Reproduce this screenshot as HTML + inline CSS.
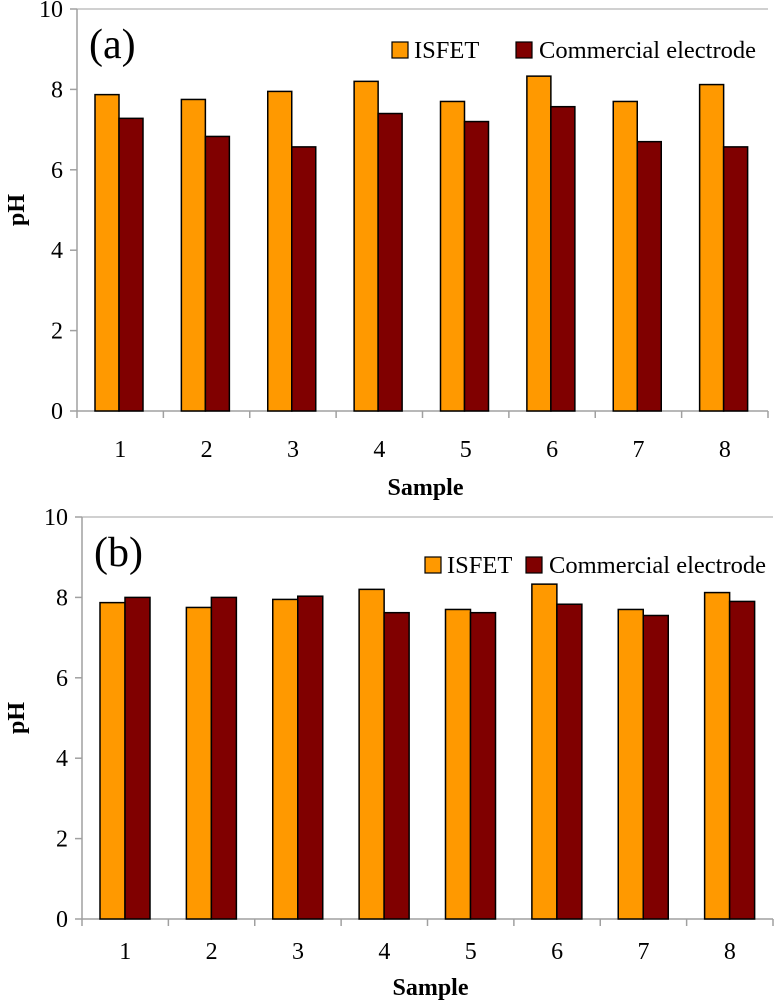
<!DOCTYPE html>
<html><head><meta charset="utf-8"><style>
body{margin:0;background:#fff}
svg text{font-family:"Liberation Serif",serif;fill:#000}
</style></head><body>
<svg id="c" width="774" height="1000"></svg>
<script>
const categories=["1","2","3","4","5","6","7","8"];
const isfetA=[7.87,7.75,7.95,8.2,7.7,8.33,7.7,8.12];
const commA=[7.28,6.83,6.57,7.4,7.2,7.57,6.7,6.57];
const isfetB=[7.87,7.75,7.95,8.2,7.7,8.33,7.7,8.12];
const commB=[8.0,8.0,8.03,7.62,7.62,7.83,7.55,7.9];
const yTicks=[0,2,4,6,8,10];
const svg=document.getElementById('c');
const NS='http://www.w3.org/2000/svg';
function mk(t,a,txt){const e=document.createElementNS(NS,t);for(const k in a)e.setAttribute(k,a[k]);if(txt!=null)e.textContent=txt;svg.appendChild(e);return e;}
function panel(p){
 const y=v=>p.y0-(v/10)*(p.y0-p.y10);
 const cw=(p.x1-p.x0)/categories.length;
 const x=i=>p.x0+i*cw;
 let e=mk('line',{x1:p.x0,y1:p.y10,x2:p.x1,y2:p.y10,stroke:'#c0c0c0','stroke-width':1.5});
 
 e=mk('line',{x1:p.x0,y1:p.y10,x2:p.x0,y2:p.y0,stroke:'#a0a0a0','stroke-width':1.5});
 
 e=mk('line',{x1:p.x0,y1:p.y0,x2:p.x1,y2:p.y0,stroke:'#a0a0a0','stroke-width':1.5});
 
 yTicks.forEach(v=>{
  mk('line',{x1:p.x0-7,y1:y(v),x2:p.x0,y2:y(v),stroke:'#a0a0a0','stroke-width':1.5});
  e=mk('text',{x:p.x0-14,y:y(v)+8,'text-anchor':'end','font-size':24},v);
  
 });
 categories.forEach((c,i)=>{
  mk('line',{x1:x(i),y1:p.y0,x2:x(i),y2:p.y0+7,stroke:'#a0a0a0','stroke-width':1.5});
  e=mk('text',{x:x(i)+cw/2,y:p.y0+p.xl,'text-anchor':'middle','font-size':24},c);
  
  const bx=x(i)+18;
  e=mk('rect',{x:bx,y:y(p.s1[i]),width:p.bw,height:y(0)-y(p.s1[i]),fill:'#ff9900',stroke:'#000','stroke-width':1.5});
  
  e=mk('rect',{x:bx+p.bw,y:y(p.s2[i]),width:p.bw,height:y(0)-y(p.s2[i]),fill:'#800000',stroke:'#000','stroke-width':1.5});
  
 });
 mk('line',{x1:p.x1,y1:p.y0,x2:p.x1,y2:p.y0+7,stroke:'#a0a0a0','stroke-width':1.5});
 e=mk('text',{x:p.x0+12,y:p.y10+49,'font-size':42},p.label);
 
 e=mk('text',{x:(p.x0+p.x1)/2+3,y:p.y0+p.st,'text-anchor':'middle','font-size':24,'font-weight':'bold'},'Sample');
 
 const cy=(p.y0+p.y10)/2;
 e=mk('text',{x:24,y:cy,'text-anchor':'middle','font-size':24,'font-weight':'bold',transform:`rotate(-90 24 ${cy})`},'pH');
 
 e=mk('rect',{x:p.lx1,y:p.ly-16,width:16,height:16,fill:'#ff9900',stroke:'#000','stroke-width':1.2});
 
 e=mk('text',{x:p.lx1+22,y:p.ly,'font-size':24.5},'ISFET');
 
 e=mk('rect',{x:p.lx2,y:p.ly-16,width:16,height:16,fill:'#800000',stroke:'#000','stroke-width':1.2});
 
 e=mk('text',{x:p.lx2+23,y:p.ly,'font-size':24.5},'Commercial electrode');
 
}
panel({id:'panel-a',x0:77,x1:768,y0:411,y10:9,bw:24,s1:isfetA,s2:commA,label:'(a)',lx1:392,lx2:516,ly:58,xl:46,st:84});
panel({id:'panel-b',x0:82,x1:773,y0:919,y10:517,bw:25,s1:isfetB,s2:commB,label:'(b)',lx1:425,lx2:526,ly:573,xl:40,st:76});
</script>
</body></html>
